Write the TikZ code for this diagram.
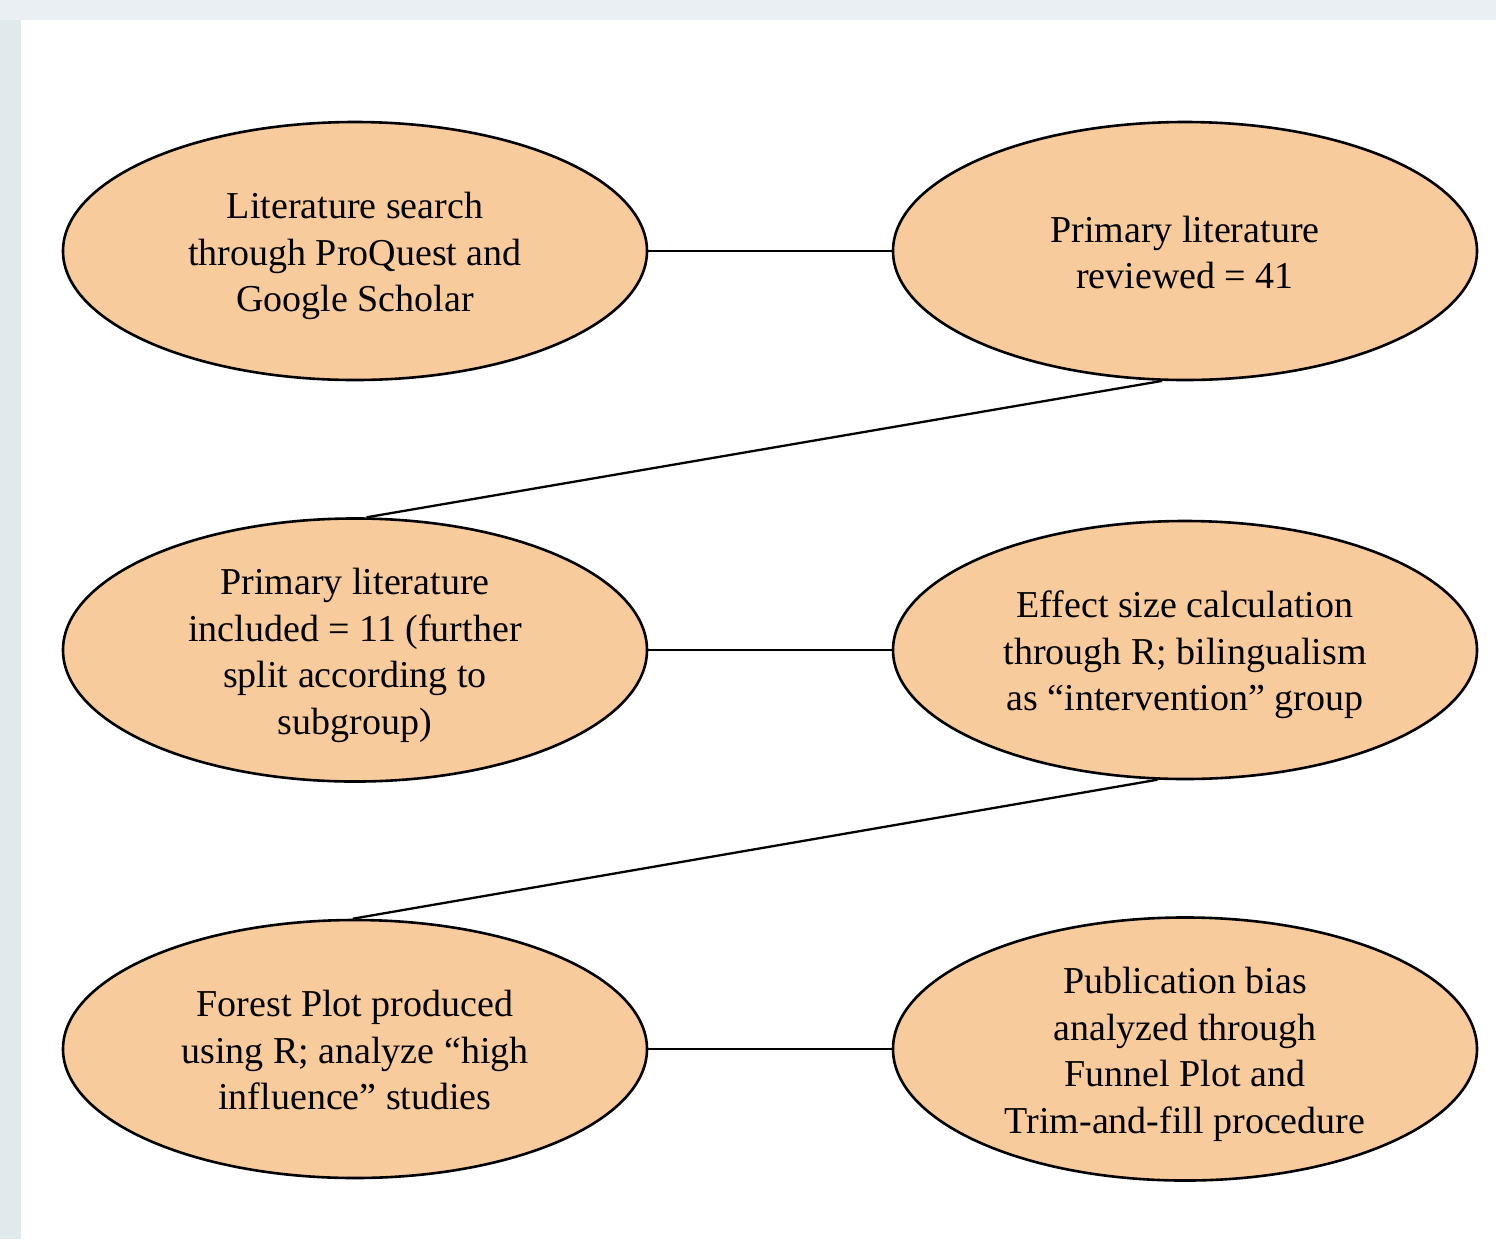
\documentclass[tikz,border=0pt]{standalone}
\usepackage{fontspec}
\setmainfont{Liberation Serif}
\usetikzlibrary{shapes.geometric}
\definecolor{bgtop}{HTML}{E9EFF2}
\definecolor{bgleft}{HTML}{E0EAEC}
\definecolor{boxfill}{HTML}{F8CB9C}
\newcommand\ovaltext[1]{\raisebox{-2.5pt}[\height][\depth]{\begin{tabular}{@{}c@{}}#1\end{tabular}}}
\begin{document}
\begin{tikzpicture}[x=0.5pt,y=-0.5pt,
  oval/.style={ellipse,draw=black,line width=1.3pt,fill=boxfill,
    minimum width=292pt,minimum height=129pt,inner sep=0pt,
    font=\fontsize{19}{23.25}\selectfont},
  link/.style={draw=black,line width=1.15pt}]
\useasboundingbox (0,0) rectangle (1496,1239);
\fill[bgtop] (0,0) rectangle (1496,1239);
\fill[bgleft] (0,20) rectangle (21,1239);
\fill[white] (21,20) rectangle (1496,1239);
\node[oval] (A) at (355,251) {\ovaltext{Literature search\\through ProQuest and\\Google Scholar}};
\node[oval] (B) at (1185,251) {\ovaltext{Primary literature\\reviewed = 41}};
\node[oval] (C) at (355,650) {\ovaltext{Primary literature\\included = 11 (further\\split according to\\subgroup)}};
\node[oval] (D) at (1185,650) {\ovaltext{Effect size calculation\\through R; bilingualism\\as “intervention” group}};
\node[oval] (E) at (355,1049) {\ovaltext{Forest Plot produced\\using R; analyze “high\\influence” studies}};
\node[oval] (F) at (1185,1049) {\ovaltext{Publication bias\\analyzed through\\Funnel Plot and\\Trim-and-fill procedure}};
\draw[link] (A.east) -- (B.west);
\draw[link] (B.260) -- (C.85);
\draw[link] (C.east) -- (D.west);
\draw[link] (D.258) -- (E.91);
\draw[link] (E.east) -- (F.west);
\end{tikzpicture}
\end{document}
